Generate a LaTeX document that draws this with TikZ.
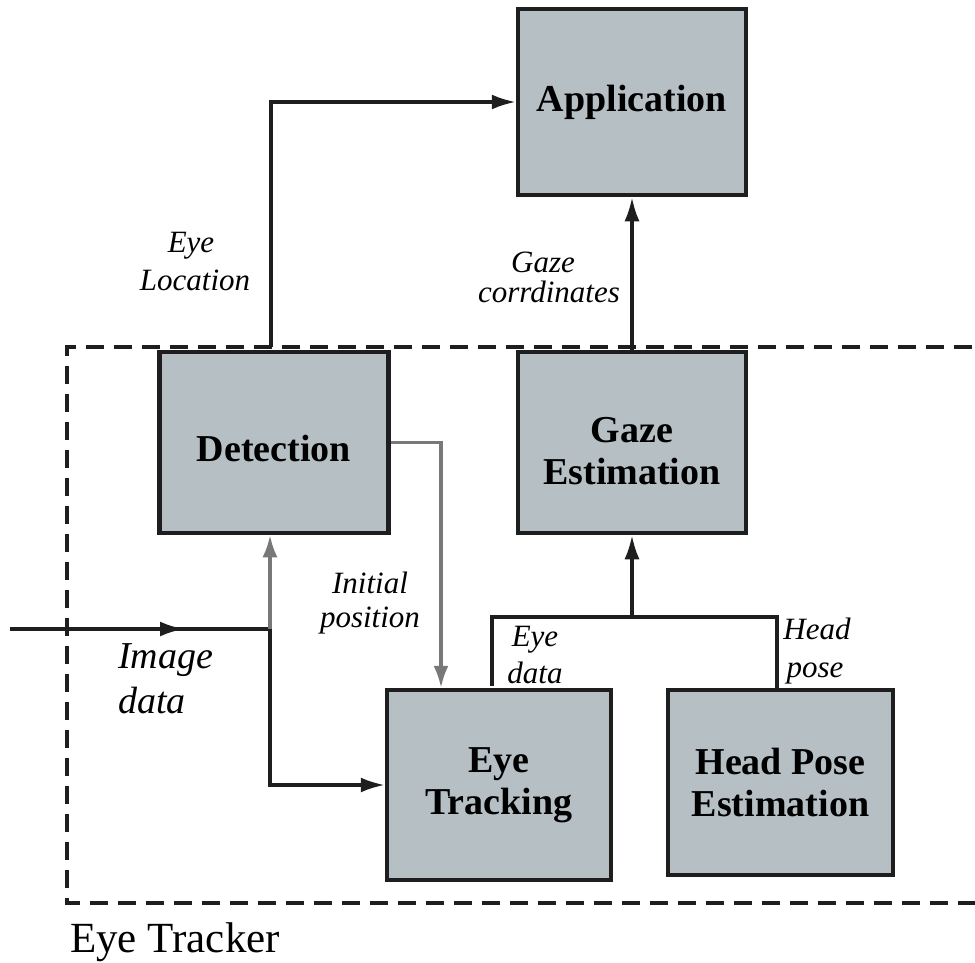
\documentclass[tikz,border=0pt]{standalone}
\usepackage{fontspec}
\setmainfont{Liberation Serif}
\usetikzlibrary{arrows.meta}
\definecolor{boxfill}{RGB}{182,192,196}
\definecolor{arrgray}{RGB}{120,120,120}
\definecolor{ink}{RGB}{30,30,30}
\tikzset{
  blk/.style={draw=ink, line width=4.5pt, fill=boxfill, inner sep=0pt,
    align=center, font=\fontsize{38}{42}\selectfont\bfseries},
  btxt/.style={inner sep=0pt, align=center, font=\fontsize{38}{42}\selectfont\bfseries},
  conn/.style={line width=3.2pt, draw=ink},
  arr/.style={conn, -{Latex[length=24pt,width=15pt]}},
  garr/.style={line width=3.2pt, draw=arrgray, -{Latex[length=22pt,width=15pt]}},
  lbl/.style={anchor=base, inner sep=0pt, font=\fontsize{31}{36}\selectfont\itshape},
  bigl/.style={anchor=base west, inner sep=0pt, font=\fontsize{38}{44}\selectfont\itshape},
}
\begin{document}
\begin{tikzpicture}[x=1pt,y=-1pt]
\useasboundingbox (0,0) rectangle (975,963);
\begin{scope}
\clip (0,0) rectangle (975,963);
\draw[line width=4pt, ink, dash pattern=on 18pt off 10pt] (1000,347) -- (67,347) -- (67,903) -- (1000,903);
\end{scope}
\node[blk, minimum width=228pt, minimum height=186pt] (app) at (632,102) {Application};
\node[blk, minimum width=229pt, minimum height=181pt] (det) at (274,442.5) {};
\node[btxt] (dett) at (274,449) {Detection};
\node[blk, minimum width=228pt, minimum height=181pt] (gaze) at (632,442.5) {};
\node[btxt] (gazet) at (632,451) {Gaze\\Estimation};
\node[blk, minimum width=224pt, minimum height=190pt] (et) at (499,785) {Eye\\Tracking};
\node[blk, minimum width=225pt, minimum height=185pt] (hp) at (780.5,782.5) {Head Pose\\Estimation};

% Eye location
\coordinate (elstart) at (271,347);
\draw[arr] (elstart) |- (app.west);
% gaze to application
\draw[arr] (gaze.north) -- (app.south);
% detection to eye tracking
\draw[garr] (det.east) -| (et.north -| 441,0);
% image data
\coordinate (in) at (10,629);
\coordinate (mid) at (184,629);
\coordinate (jn) at (270,629);
\draw[arr] (in) -- (mid);
\draw[conn] (170,629) -- (jn);
\draw[garr] (jn) -- (det.south -| jn);
\draw[arr] (jn) |- (et.west);
% eye data / head pose
\coordinate (ed) at (492,686);
\coordinate (bus) at (632,617);
\draw[conn] (ed) |- (777,617) -- (hp.north -| 777,0);
\draw[arr] (bus) -- (gaze.south);

% labels
\node[lbl] (l1a) at (191,252) {Eye};
\node[lbl] (l1b) at (195,290) {Location};
\node[lbl] (l2a) at (543,272) {Gaze};
\node[lbl] (l2b) at (549,302) {corrdinates};
\node[lbl] (l3a) at (370,593) {Initial};
\node[lbl] (l3b) at (370,627) {position};
\node[bigl] (l4a) at (118,668) {Image};
\node[bigl] (l4b) at (118,713) {data};
\node[lbl] (l5a) at (535,646) {Eye};
\node[lbl] (l5b) at (535,683) {data};
\node[lbl] (l6a) at (817,639) {Head};
\node[lbl] (l6b) at (815,677) {pose};
\node[anchor=base west, inner sep=0pt, font=\fontsize{43}{48}\selectfont] (tr) at (70,952) {Eye Tracker};
\end{tikzpicture}
\end{document}
